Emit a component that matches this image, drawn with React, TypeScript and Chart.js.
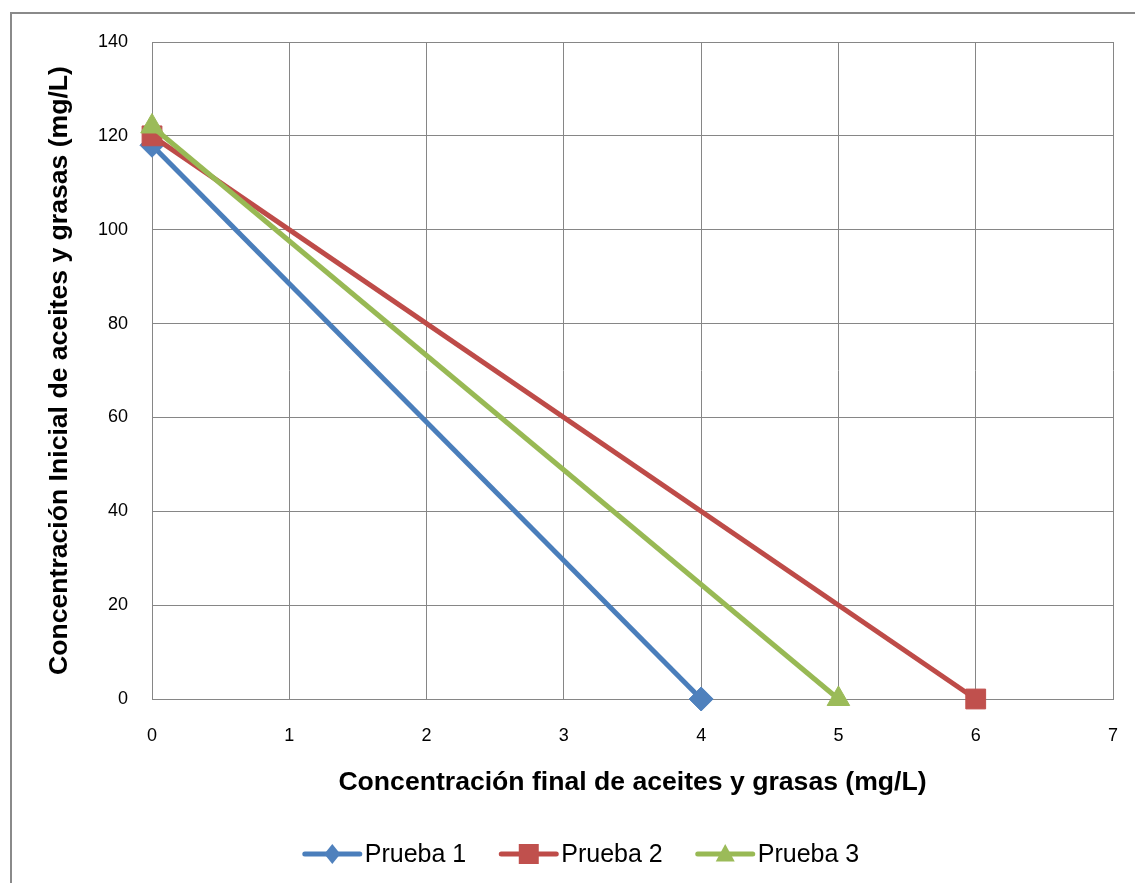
import React, { useEffect, useRef } from "react";
import Chart from "chart.js/auto";

// Concentración final (x) vs inicial (y) de aceites y grasas, mg/L
const seriesNames = ["Prueba 1", "Prueba 2", "Prueba 3"];
const finalPrueba1 = [0, 4];
const initialPrueba1 = [118, 0];
const finalPrueba2 = [0, 6];
const initialPrueba2 = [120, 0];
const finalPrueba3 = [0, 5];
const initialPrueba3 = [122, 0];

const lineColors = ["#4A7EBB", "#BE4B48", "#98B954"];
const markerColors = ["#4F81BD", "#C0504D", "#9BBB59"];
const markerStyles = ["rectRot", "rect", "triangle"];
const markerRadius = [12, 14, 13];

const xTitle = "Concentración final de aceites y grasas (mg/L)";
const yTitle = "Concentración Inicial de aceites y grasas (mg/L)";

const FONT = "'Liberation Sans', Arial, sans-serif";
const GRID = "#868686";

function toPoints(xs: number[], ys: number[]) {
  return xs.map((x, i) => ({ x, y: ys[i] }));
}

// White page with the outer grey frame of the chart object
const framePlugin = {
  id: "frame",
  beforeDraw(chart: any) {
    const ctx = chart.ctx;
    ctx.save();
    ctx.fillStyle = "#fff";
    ctx.fillRect(0, 0, chart.width, chart.height);
    ctx.strokeStyle = "#8a8a8a";
    ctx.lineWidth = 2;
    ctx.strokeRect(11, 13, chart.width + 20, chart.height + 20);
    ctx.restore();
  },
};

function drawMarker(ctx: CanvasRenderingContext2D, style: string, x: number, y: number, r: number) {
  ctx.beginPath();
  if (style === "rectRot") {
    ctx.moveTo(x, y - r);
    ctx.lineTo(x + r * 0.8, y);
    ctx.lineTo(x, y + r);
    ctx.lineTo(x - r * 0.8, y);
  } else if (style === "rect") {
    ctx.rect(x - r, y - r, 2 * r, 2 * r);
  } else {
    ctx.moveTo(x, y - r);
    ctx.lineTo(x + r * 0.95, y + r * 0.75);
    ctx.lineTo(x - r * 0.95, y + r * 0.75);
  }
  ctx.closePath();
  ctx.fill();
}

// Line + marker legend beneath the x-axis title
const legendPlugin = {
  id: "lineMarkerLegend",
  afterDraw(chart: any) {
    const ctx = chart.ctx as CanvasRenderingContext2D;
    ctx.save();
    ctx.font = `25px ${FONT}`;
    ctx.textBaseline = "middle";
    const lineLen = 55;
    const gap = 5;
    const spacing = 35;
    const widths = seriesNames.map((n) => ctx.measureText(n).width);
    const total =
      widths.reduce((a, w) => a + lineLen + gap + w, 0) + spacing * (seriesNames.length - 1);
    let x = 582 - total / 2;
    const y = 854;
    seriesNames.forEach((name, i) => {
      ctx.strokeStyle = lineColors[i];
      ctx.lineWidth = 5;
      ctx.lineCap = "round";
      ctx.beginPath();
      ctx.moveTo(x, y);
      ctx.lineTo(x + lineLen, y);
      ctx.stroke();
      ctx.fillStyle = markerColors[i];
      drawMarker(ctx, markerStyles[i], x + lineLen / 2, y, 10);
      ctx.fillStyle = "#000";
      ctx.fillText(name, x + lineLen + gap, y + 1);
      x += lineLen + gap + widths[i] + spacing;
    });
    ctx.restore();
  },
};

export default function App() {
  const canvasRef = useRef<HTMLCanvasElement | null>(null);

  useEffect(() => {
    document.body.style.margin = "0";
    const canvas = canvasRef.current;
    if (!canvas) return;
    const xs = [finalPrueba1, finalPrueba2, finalPrueba3];
    const ys = [initialPrueba1, initialPrueba2, initialPrueba3];
    const chart = new Chart(canvas, {
      type: "line",
      data: {
        datasets: seriesNames.map((name, i) => ({
          label: name,
          data: toPoints(xs[i], ys[i]),
          borderColor: lineColors[i],
          backgroundColor: markerColors[i],
          borderWidth: 5,
          pointStyle: markerStyles[i] as any,
          pointRadius: markerRadius[i],
          pointBorderWidth: 1,
          pointBorderColor: markerColors[i],
          pointBackgroundColor: markerColors[i],
          fill: false,
          tension: 0,
          order: 3 - i,
          clip: false as any,
        })),
      },
      options: {
        responsive: false,
        animation: false,
        events: [],
        layout: { autoPadding: false, padding: { left: 10, top: 42, right: 22, bottom: 74 } },
        plugins: {
          legend: { display: false },
          tooltip: { enabled: false },
        },
        scales: {
          x: {
            type: "linear",
            min: 0,
            max: 7,
            afterFit: (s: any) => {
              s.height = 110;
              s.paddingLeft = 0;
              s.paddingRight = 0;
            },
            ticks: {
              stepSize: 1,
              padding: 26,
              color: "#000",
              font: { family: FONT, size: 18 },
            },
            grid: { color: GRID, lineWidth: 1, drawTicks: false },
            border: { color: GRID, width: 1 },
            title: {
              display: true,
              text: xTitle,
              color: "#000",
              font: { family: FONT, size: 26.6, weight: "bold" },
              padding: { top: 0, bottom: 10 },
            },
          },
          y: {
            type: "linear",
            min: 0,
            max: 140,
            afterFit: (s: any) => {
              s.width = 142;
              s.paddingTop = 0;
              s.paddingBottom = 0;
            },
            ticks: {
              stepSize: 20,
              padding: 24,
              color: "#000",
              font: { family: FONT, size: 18 },
            },
            grid: { color: GRID, lineWidth: 1, drawTicks: false },
            border: { color: GRID, width: 1 },
            title: {
              display: true,
              text: yTitle,
              color: "#000",
              font: { family: FONT, size: 26.6, weight: "bold" },
              padding: { top: 34, bottom: 0 },
            },
          },
        },
      },
      plugins: [framePlugin, legendPlugin],
    });
    return () => chart.destroy();
  }, []);

  return (
    <div style={{ width: 1135, height: 883 }}>
      <canvas ref={canvasRef} width={1135} height={883} style={{ display: "block" }} />
    </div>
  );
}
